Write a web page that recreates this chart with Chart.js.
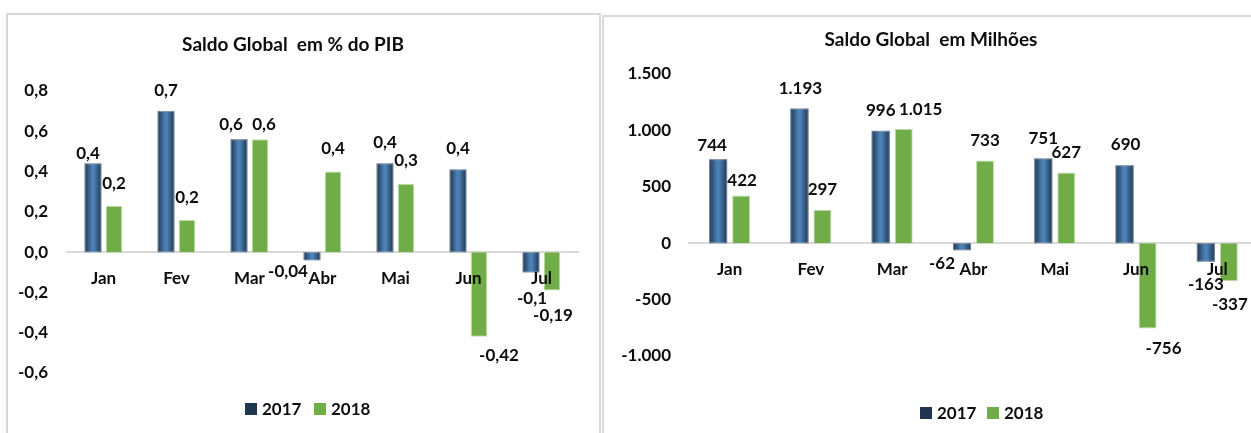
<!DOCTYPE html>
<html><head><meta charset="utf-8">
<script src="https://cdn.jsdelivr.net/npm/chart.js@4/dist/chart.umd.min.js"></script>
<style>
html,body{margin:0;padding:0;width:1251px;height:433px;overflow:hidden;background:#fff;font-family:Lato,sans-serif;}
.panel{position:absolute;border:2px solid #d9d9d9;box-sizing:border-box;background:#fff}
#p1{left:6px;top:13px;width:595px;height:440px}
#p2{left:602px;top:15px;width:700px;height:440px}
canvas{position:absolute}
#c1{left:8px;top:15px}
#c2{left:604px;top:17px}
.sq{position:absolute;width:12px;height:12px}
.lt{position:absolute;font:bold 17px Lato,sans-serif;color:#0d0d0d;line-height:20px;white-space:nowrap}
</style>
</head><body>
<div class="panel" id="p1"></div>
<div class="panel" id="p2"></div>
<canvas id="c1" width="591" height="418" style="width:591px;height:418px"></canvas>
<canvas id="c2" width="654" height="416" style="width:654px;height:416px"></canvas>

<div class="sq" style="left:245px;top:403px;background:#1f3550"></div>
<div class="lt" id="lg1a" style="left:262px;top:399px"></div>
<div class="sq" style="left:314px;top:403px;background:#70ad47"></div>
<div class="lt" id="lg1b" style="left:331px;top:399px"></div>

<div class="sq" style="left:920px;top:407px;background:#1f3550"></div>
<div class="lt" id="lg2a" style="left:937px;top:403px"></div>
<div class="sq" style="left:987px;top:407px;background:#70ad47"></div>
<div class="lt" id="lg2b" style="left:1004px;top:403px"></div>

<script>
// ---- data ----
const months = ['Jan','Fev','Mar','Abr','Mai','Jun','Jul'];
const seriesNames = ['2017','2018'];

const pibTitle = 'Saldo Global  em % do PIB';
const pib2017 = [0.44, 0.70, 0.56, -0.04, 0.44, 0.41, -0.10];
const pib2018 = [0.23, 0.16, 0.56, 0.40, 0.34, -0.42, -0.19];
const pibLabels2017 = ['0,4','0,7','0,6','-0,04','0,4','0,4','-0,1'];
const pibLabels2018 = ['0,2','0,2','0,6','0,4','0,3','-0,42','-0,19'];
const pibTickMin = -0.6, pibTickMax = 0.8, pibTickStep = 0.2;

const milTitle = 'Saldo Global  em Milhões';
const mil2017 = [744, 1193, 996, -62, 751, 690, -163];
const mil2018 = [422, 297, 1015, 733, 627, -756, -337];
const milLabels2017 = ['744','1.193','996','-62','751','690','-163'];
const milLabels2018 = ['422','297','1.015','733','627','-756','-337'];
const milTickMin = -1000, milTickMax = 1500, milTickStep = 500;

// ---- label nudges (style only, px) ----
const pibNudge = [
  [[-5,11],[0,0],[-8,6],[-24,-14],[0,0],[0,0],[1,1]],
  [[0,-1],[0,-1],[4,6],[0,-2],[0,-2],[20,-6],[1,0]]
];
const milNudge = [
  [[-6,6],[1,0],[0,0],[-20,-10],[0,0],[1,-1],[0,0]],
  [[1,5],[0,0],[17,1],[0,0],[0,0],[16,-3],[1,0]]
];

document.getElementById('lg1a').textContent = seriesNames[0];
document.getElementById('lg1b').textContent = seriesNames[1];
document.getElementById('lg2a').textContent = seriesNames[0];
document.getElementById('lg2b').textContent = seriesNames[1];

const TEXT = '#0d0d0d';
const FONT = {family:'Lato', size:17, weight:'bold'};
const TFONT = {family:'Lato', size:19, weight:'bold'};

const gradPlugin = {
  id:'gradBars',
  afterDatasetDraw(chart, args) {
    if (args.index !== 0) return;
    const ctx = chart.ctx;
    args.meta.data.forEach(el => {
      const p = el.getProps(['x','y','base','width'], true);
      const left = p.x - p.width/2;
      const top = Math.min(p.y, p.base), bottom = Math.max(p.y, p.base);
      const g = ctx.createLinearGradient(left, 0, left + p.width, 0);
      g.addColorStop(0, '#1d3854');
      g.addColorStop(0.45, '#4e81b6');
      g.addColorStop(0.55, '#4e81b6');
      g.addColorStop(1, '#1d3854');
      ctx.save();
      ctx.fillStyle = g;
      ctx.fillRect(left, top, p.width, bottom - top);
      ctx.strokeStyle = 'rgba(150,160,170,0.7)';
      ctx.lineWidth = 1;
      ctx.strokeRect(left + 0.5, top + 0.5, p.width - 1, bottom - top - 1);
      ctx.restore();
    });
  }
};

const labelPlugin = {
  id:'barLabels',
  afterDatasetsDraw(chart, args, opts) {
    const ctx = chart.ctx;
    ctx.save();
    ctx.font = 'bold 17px Lato';
    ctx.fillStyle = TEXT;
    ctx.textAlign = 'center';
    ctx.textBaseline = 'middle';
    chart.data.datasets.forEach((ds, di) => {
      const meta = chart.getDatasetMeta(di);
      meta.data.forEach((el, i) => {
        const p = el.getProps(['x','y'], true);
        const v = ds.data[i];
        const n = (opts.nudges[di] && opts.nudges[di][i]) || [0,0];
        const d = v >= 0 ? -opts.above : opts.below;
        ctx.fillText(ds.labelsText[i], p.x + n[0], p.y + d + n[1]);
      });
    });
    ctx.restore();
  }
};

function makeChart(id, c) {
  return new Chart(document.getElementById(id), {
    type:'bar',
    data:{
      labels: months,
      datasets:[
        {label:seriesNames[0], data:c.d17, labelsText:c.l17, backgroundColor:'rgba(0,0,0,0)', borderWidth:0,
         categoryPercentage:c.cp, barPercentage:c.bp},
        {label:seriesNames[1], data:c.d18, labelsText:c.l18, backgroundColor:'#70ad47', borderColor:'rgba(190,215,170,0.9)', borderWidth:1,
         categoryPercentage:c.cp, barPercentage:c.bp}
      ]
    },
    options:{
      responsive:false, animation:false, devicePixelRatio:1,
      layout:{padding:{left:0, right:c.padR, top:0, bottom:c.padB}},
      plugins:{
        legend:{display:false}, tooltip:{enabled:false},
        title:{display:true, text:c.title, color:TEXT, font:TFONT, padding:{top:c.tT, bottom:c.tB}},
        barLabels:{nudges:c.nudge, above:c.above, below:c.below}
      },
      scales:{
        x:{position:{y:0}, grid:{display:false, drawTicks:false},
           border:{display:true, color:'#d9d9d9', width:2, z:0},
           ticks:{z:1, padding:16, color:TEXT, font:FONT, maxRotation:0, autoSkip:false}},
        y:{min:c.min, max:c.max, grid:{display:false, drawTicks:false}, border:{display:false},
           ticks:{stepSize:c.step, padding:c.tickPad, color:TEXT, font:FONT, callback:c.fmt},
           afterFit(s){ s.width = c.yW; }}
      }
    },
    plugins:[gradPlugin, labelPlugin]
  });
}

function fmtPib(v){ if (Math.abs(v) < 1e-9) v = 0; return v.toFixed(1).replace('.', ','); }
function fmtMil(v){ const r = Math.round(v); const s = Math.abs(r).toString().replace(/\B(?=(\d{3})+(?!\d))/g, '.'); return (r < 0 ? '-' : '') + s; }

function build(){
  makeChart('c1', {d17:pib2017, d18:pib2018, l17:pibLabels2017, l18:pibLabels2018, title:pibTitle,
    cp:0.575, bp:0.79, padR:21, padB:60, tT:18.6, tB:34.6, min:pibTickMin, max:pibTickMax, step:pibTickStep,
    tickPad:19, yW:59, fmt:fmtPib, nudge:pibNudge, above:21, below:25});
  makeChart('c2', {d17:mil2017, d18:mil2018, l17:milLabels2017, l18:milLabels2018, title:milTitle,
    cp:0.566, bp:0.78, padR:0, padB:77, tT:11.6, tB:22.6, min:milTickMin, max:milTickMax, step:milTickStep,
    tickPad:18, yW:85, fmt:fmtMil, nudge:milNudge, above:20, below:23});
}
if (document.fonts && document.fonts.load) {
  document.fonts.load('bold 17px Lato').then(build, build);
} else build();
</script>
</body></html>
